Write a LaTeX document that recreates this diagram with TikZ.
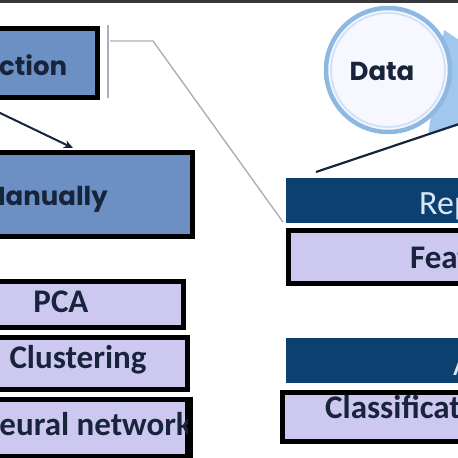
\documentclass[tikz,border=0pt]{standalone}
\usepackage{fontspec}
\newfontfamily\calib{Carlito}
\newfontfamily\geo{Poppins}
\usetikzlibrary{arrows.meta}
\definecolor{midblue}{RGB}{108,144,196}
\definecolor{lav}{RGB}{205,200,240}
\definecolor{navy}{RGB}{12,64,112}
\definecolor{ink}{RGB}{24,36,60}
\definecolor{brk}{RGB}{168,176,188}
\definecolor{ring}{RGB}{140,184,226}
\definecolor{wedge}{RGB}{160,200,238}
\definecolor{reptext}{RGB}{218,232,246}
\tikzset{
  bluebox/.style={draw=black, line width=5pt, fill=midblue, inner sep=0pt, anchor=north west},
  lavbox/.style={draw=black, line width=5pt, fill=lav, inner sep=0pt, anchor=north west},
  header/.style={fill=navy, inner sep=0pt, anchor=north west},
  caltext/.style={font=\calib\bfseries\fontsize{33}{33}\selectfont, text=ink, inner sep=0pt},
  geotext/.style={font=\geo\bfseries\fontsize{26}{26}\selectfont, text=ink, inner sep=0pt},
}
\begin{document}
\begin{tikzpicture}[x=1pt,y=-1pt]
\useasboundingbox (0,0) rectangle (458,458);
\begin{scope}
\clip (0,0) rectangle (458,458);
% top band
\fill[black!78] (0,-2) rectangle (458,3);
% left blue boxes
\node[bluebox, minimum width=120pt, minimum height=69pt] (ction) at (-25,25.5) {};
\node[geotext, anchor=base west] (ctiont) at (-1,75) {ction};
\node[bluebox, minimum width=220pt, minimum height=84pt] (manual) at (-30,149.5) {};
\node[geotext, anchor=base east] (manualt) at (108,205) {Manually};
% arrow
\coordinate (arrS) at (-2,112);
\coordinate (arrE) at (73,148);
\draw[ink, line width=2pt, -{Stealth[length=9pt,width=8pt]}] (arrS) -- (arrE);
% bracket
\coordinate (b1) at (108,25);
\coordinate (b2) at (108,98);
\coordinate (b3) at (110,41);
\coordinate (b4) at (153,41);
\coordinate (b5) at (283,222);
\draw[brk, line width=1.4pt] (b1) -- (b2);
\draw[brk, line width=1.4pt] (b3) -- (b4) -- (b5);
% lavender left boxes
\node[lavbox, minimum width=211pt, minimum height=46pt] (pca) at (-30,278.5) {};
\node[caltext, anchor=base] (pcat) at (61,312) {PCA};
\node[lavbox, minimum width=215pt, minimum height=52pt] (clus) at (-30,334.5) {};
\node[caltext, anchor=base] (clust) at (78,368) {Clustering};
\node[lavbox, minimum width=215pt, minimum height=57pt] (neur) at (-30,396.5) {};
\node[caltext, anchor=base east] (neurt) at (192,435) {Neural network};
\draw[black, line width=5pt] (neur.north east) -- (neur.south east);
% data circle with wedge
\coordinate (w1) at (444,30);
\coordinate (w2) at (462,42);
\coordinate (w3) at (462,124);
\coordinate (w4) at (428,135);
\fill[wedge] (w1) -- (w2) -- (w3) -- (w4) -- cycle;
\node[circle, draw=ring, line width=4.5pt, fill=blue!3, minimum size=124pt, inner sep=0pt] (data) at (388,70) {};
\draw[ring!40, line width=2pt] (data.center) circle (57pt);
\node[geotext, anchor=base] (datat) at (382,80) {Data};
% dark line
\coordinate (l1) at (316,172);
\coordinate (l2) at (462,123);
\draw[ink, line width=2.2pt] (l1) -- (l2);
% right headers and boxes
\node[header, minimum width=180pt, minimum height=45pt] (rep) at (286,178) {};
\node[font=\calib\fontsize{34}{34}\selectfont, text=reptext, inner sep=0pt, anchor=base west] (rept) at (419,214) {Rep};
\node[lavbox, minimum width=190pt, minimum height=53pt] (feat) at (285.5,227.5) {};
\node[caltext, anchor=base west] (featt) at (410,268) {Feat};
\node[header, minimum width=180pt, minimum height=45pt] (alg) at (286,338) {};
\node[font=\calib\fontsize{34}{34}\selectfont, text=reptext, inner sep=0pt, anchor=base west] (algt) at (453,375) {A};
\node[lavbox, minimum width=200pt, minimum height=49pt] (clas) at (279.5,389.5) {};
\node[caltext, anchor=base west] (clast) at (325,418) {Classificat};
\end{scope}
\end{tikzpicture}
\end{document}
